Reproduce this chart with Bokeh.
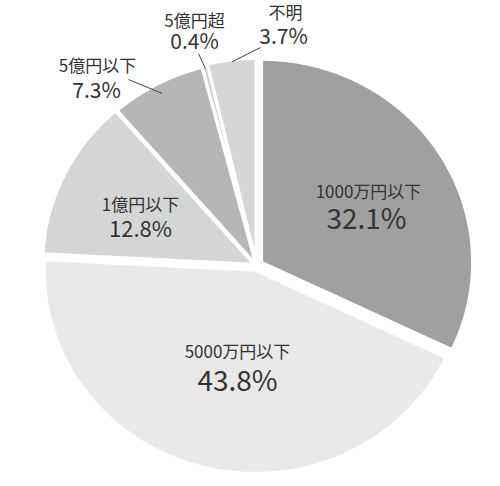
import numpy as np
from bokeh.plotting import figure
from bokeh.models import Range1d, ColumnDataSource
from bokeh.core.properties import value
from bokeh.embed import file_html
from bokeh.resources import INLINE

# data
categories = ["1000万円以下", "5000万円以下", "1億円以下", "5億円以下", "5億円超", "不明"]
shares = [32.1, 43.8, 12.8, 7.3, 0.4, 3.7]

# styling
colors = ["#a0a0a0", "#e9e9e9", "#d4d5d5", "#b5b6b7", "#cccccc", "#d5d6d6"]
explode = [6, 5, 3, 2, 2, 4]          # px, along each slice's bisector
FONT = value("Noto Sans CJK JP")
TXT = "#333333"

# plot area = whole page, 1 data unit = 1 px
W, H = 500, 486
def py(y_page):
    # page y (down) -> data y (up)
    return H - y_page

CX, CY = 256, py(265)
RX, RY = 211, 203

# name label / percent label anchors (page coords)
name_pos = [(368, 190), (237, 350), (140, 203), (97, 64), (194, 19), (285, 11)]
pct_pos = [(366, 216), (237, 378), (140, 226), (96, 88), (194, 39), (283, 34)]
pct_size = ["28px", "28px", "22px", "21px", "21px", "21px"]
# outer ends of leader lines for the outside labels
leader_out = {3: (128, 79), 4: (198, 53), 5: (260, 47)}
leader_k = {3: 0.95, 4: 0.99, 5: 0.99}

total = sum(shares)
start = np.pi / 2
xs, ys, bis = [], [], []
for s, e in zip(shares, explode):
    sweep = 2 * np.pi * s / total
    end = start - sweep
    mid = (start + end) / 2
    ox, oy = e * np.cos(mid), e * np.sin(mid)
    t = np.linspace(start, end, max(8, int(400 * s / total)))
    x = np.concatenate([[CX + ox], CX + ox + RX * np.cos(t)])
    y = np.concatenate([[CY + oy], CY + oy + RY * np.sin(t)])
    xs.append(x.tolist())
    ys.append(y.tolist())
    bis.append((mid, ox, oy))
    start = end

p = figure(width=W, height=H, x_range=Range1d(0, W), y_range=Range1d(0, H),
           toolbar_location=None, tools="", output_backend="svg", min_border=0)
p.axis.visible = False
p.grid.grid_line_color = None
p.outline_line_color = None
p.background_fill_color = "white"

src = ColumnDataSource(dict(xs=xs, ys=ys, color=colors, name=categories))
p.patches("xs", "ys", source=src, fill_color="color", line_color="white", line_width=3)

# leader lines
for i, (ox_p, oy_p) in leader_out.items():
    mid, ox, oy = bis[i]
    k = leader_k[i]
    ix = CX + ox + RX * k * np.cos(mid)
    iy = CY + oy + RY * k * np.sin(mid)
    p.line([ox_p, ix], [py(oy_p), iy], line_color="#444444", line_width=1)

# labels
p.text([q[0] for q in name_pos], [py(q[1]) for q in name_pos], text=categories,
       text_align="center", text_baseline="middle", text_font=FONT,
       text_font_size="17px", text_color=TXT)
pcts = [f"{s}%" for s in shares]
for i in range(len(shares)):
    p.text([pct_pos[i][0]], [py(pct_pos[i][1])], text=[pcts[i]],
           text_align="center", text_baseline="middle", text_font=FONT,
           text_font_size=pct_size[i], text_color=TXT)

open("out.html", "w").write(file_html(p, INLINE))
